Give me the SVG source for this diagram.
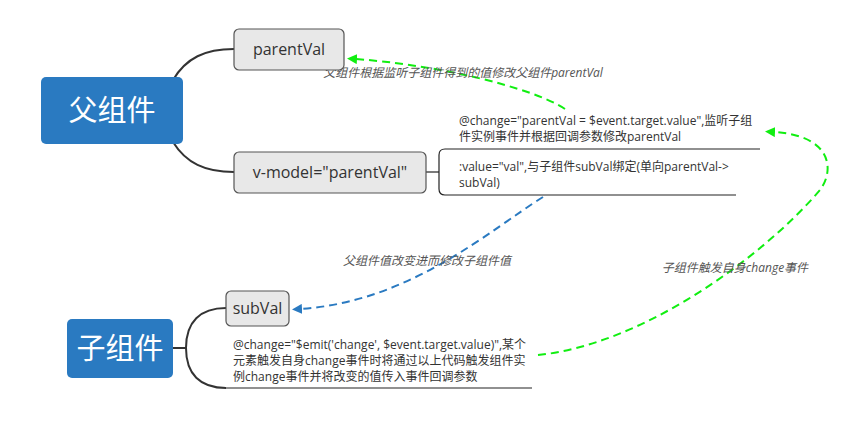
<svg xmlns="http://www.w3.org/2000/svg" width="855" height="425" viewBox="0 0 855 425">
<defs>
<style>
.root{fill:#2a7ac1;}
.rootT{fill:#fff;font-family:"Open Sans","Noto Sans CJK SC",sans-serif;font-size:29px;text-anchor:middle;}
.sub{fill:#e8e8e8;stroke:#555;stroke-width:1.2;}
.subT{fill:#333;font-family:"Open Sans","Noto Sans CJK SC",sans-serif;font-size:16px;text-anchor:middle;}
.desc{fill:#333;font-family:"Open Sans","Noto Sans CJK SC",sans-serif;font-size:12px;}
.lbl{fill:#555;font-family:"Open Sans","Noto Sans CJK SC",sans-serif;font-size:12px;font-style:italic;text-anchor:middle;}
.branch{fill:none;stroke:#333;stroke-width:2;}
.line{fill:none;stroke:#222;stroke-width:1.2;}
.g{fill:none;stroke:#11ee11;stroke-width:2;stroke-dasharray:8 5;}
.b{fill:none;stroke:#2a7ac1;stroke-width:2;stroke-dasharray:8 5;}
</style>
<marker id="ag" viewBox="0 0 10 10" refX="2" refY="5" markerWidth="5" markerHeight="5" orient="auto-start-reverse"><path d="M0,0 L10,5 L0,10 z" fill="#11ee11"/></marker>
<marker id="ab" viewBox="0 0 10 10" refX="2" refY="5" markerWidth="5" markerHeight="5" orient="auto-start-reverse"><path d="M0,0 L10,5 L0,10 z" fill="#2a7ac1"/></marker>
</defs>
<g id="connectors">
<path class="branch" d="M173,80 C186,58 205,49 234,49"/>
<path class="branch" d="M173,142 C186,163 205,172 234,172"/>
<path class="line" d="M426,172 H439"/>
<path class="line" d="M760,149 H445 Q439,149 439,155 V189 Q439,195 445,195 H736"/>
<path class="branch" d="M173,348 H186"/>
<path class="branch" d="M186,348 C186,322 200,308 226,308"/>
<path class="branch" d="M186,348 C186,374 200,388 226,388"/>
<path class="line" d="M226,388 H532"/>
<path class="g" d="M565,109 C530,86 430,64 355,59" marker-end="url(#ag)"/>
<path class="g" d="M538,355 C640,345 760,260 820,190 C835,170 832,135 773,132" marker-end="url(#ag)"/>
<path class="b" d="M543,197 C490,230 410,302 300,309" marker-end="url(#ab)"/>
<text class="lbl" x="463" y="77">父组件根据监听子组件得到的值修改父组件parentVal</text>
<text class="lbl" x="427" y="265">父组件值改变进而修改子组件值</text>
<text class="lbl" x="735" y="272">子组件触发自身change事件</text>
</g>
<g id="parent">
<rect class="root" x="41" y="77" width="142" height="67" rx="5"/>
<text class="rootT" x="112" y="121">父组件</text>
</g>
<g id="parentVal">
<rect class="sub" x="234" y="29" width="110" height="41" rx="5"/>
<text class="subT" x="289" y="55">parentVal</text>
</g>
<g id="vmodel">
<rect class="sub" x="234" y="152" width="192" height="41" rx="5"/>
<text class="subT" x="330" y="178">v-model="parentVal"</text>
</g>
<g id="changeDesc">
<text class="desc" x="459" y="125">@change="parentVal = $event.target.value",监听子组</text>
<text class="desc" x="459" y="141">件实例事件并根据回调参数修改parentVal</text>
</g>
<g id="valueDesc">
<text class="desc" x="459" y="171">:value="val",与子组件subVal绑定(单向parentVal-&gt;</text>
<text class="desc" x="459" y="187">subVal)</text>
</g>
<g id="child">
<rect class="root" x="67" y="319" width="106" height="59" rx="5"/>
<text class="rootT" x="120" y="359">子组件</text>
</g>
<g id="subVal">
<rect class="sub" x="226" y="291" width="63" height="35" rx="5"/>
<text class="subT" x="257.5" y="314">subVal</text>
</g>
<g id="emitDesc">
<text class="desc" x="233" y="349">@change="$emit('change', $event.target.value)",某个</text>
<text class="desc" x="233" y="365">元素触发自身change事件时将通过以上代码触发组件实</text>
<text class="desc" x="233" y="381">例change事件并将改变的值传入事件回调参数</text>
</g>
</svg>
